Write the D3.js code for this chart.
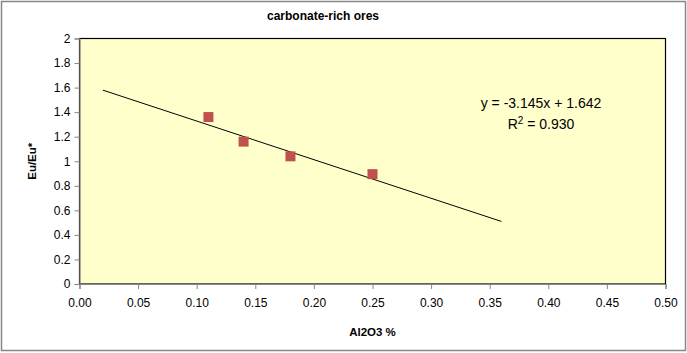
<!DOCTYPE html>
<html>
<head>
<meta charset="utf-8">
<script src="https://cdn.jsdelivr.net/npm/d3@7"></script>
<style>
  body { margin: 0; background: #fff; }
  svg text { font-family: "Liberation Sans", Arial, sans-serif; fill: #000; }
</style>
</head>
<body>
<script>
// data
var alumina = [0.11, 0.14, 0.18, 0.25];
var euAnomaly = [1.36, 1.16, 1.04, 0.895];
var trendX = [0.02, 0.36];
var slope = -3.145, intercept = 1.642;
var xTicks = [0, 0.05, 0.1, 0.15, 0.2, 0.25, 0.3, 0.35, 0.4, 0.45, 0.5];
var yTicks = [0, 0.2, 0.4, 0.6, 0.8, 1, 1.2, 1.4, 1.6, 1.8, 2];

var W = 687, H = 353;
var plot = { left: 79.5, top: 38.5, right: 665.5, bottom: 284 };

var svg = d3.select('body').append('svg').attr('width', W).attr('height', H);

// outer chart border
svg.append('rect')
  .attr('x', 1.5).attr('y', 1.5)
  .attr('width', W - 3).attr('height', H - 4)
  .attr('fill', '#fff').attr('stroke', '#868686').attr('stroke-width', 1.5);

var x = d3.scaleLinear().domain([0, 0.5]).range([plot.left, plot.right]);
var y = d3.scaleLinear().domain([0, 2]).range([plot.bottom, plot.top]);

// plot area
svg.append('rect')
  .attr('x', plot.left).attr('y', plot.top)
  .attr('width', plot.right - plot.left).attr('height', plot.bottom - plot.top)
  .attr('fill', '#ffffcc').attr('stroke', '#000').attr('stroke-width', 1.2);

var xAxis = svg.append('g')
  .attr('transform', 'translate(0,' + plot.bottom + ')')
  .call(d3.axisBottom(x).tickValues(xTicks).tickFormat(d3.format('.2f')).tickSize(5).tickPadding(9));

var yAxis = svg.append('g')
  .attr('transform', 'translate(' + plot.left + ',0)')
  .call(d3.axisLeft(y).tickValues(yTicks).tickFormat(function(d) { return d3.format('~g')(d); }).tickSize(5).tickPadding(4));

[xAxis, yAxis].forEach(function(a) {
  a.select('.domain').attr('stroke', '#868686').attr('stroke-width', 1.2);
  a.selectAll('.tick line').attr('stroke', '#868686');
  a.selectAll('.tick text').style('font-size', '12px').attr('fill', '#000');
});

// trendline
var line = d3.line()
  .x(function(d) { return x(d); })
  .y(function(d) { return y(slope * d + intercept); });
svg.append('path')
  .datum(trendX)
  .attr('d', line)
  .attr('fill', 'none')
  .attr('stroke', '#000')
  .attr('stroke-width', 1);

// markers
svg.selectAll('rect.pt')
  .data(alumina)
  .enter().append('rect')
  .attr('class', 'pt')
  .attr('x', function(d) { return x(d) - 5; })
  .attr('y', function(d, i) { return y(euAnomaly[i]) - 5; })
  .attr('width', 10).attr('height', 10)
  .attr('fill', '#c0504d');

// equation label
svg.append('text')
  .attr('x', 541).attr('y', 108)
  .attr('text-anchor', 'middle')
  .style('font-size', '14px')
  .text('y = -3.145x + 1.642');
var r2 = svg.append('text')
  .attr('x', 541).attr('y', 129)
  .attr('text-anchor', 'middle')
  .style('font-size', '14px');
r2.append('tspan').text('R');
r2.append('tspan').attr('dy', -5).style('font-size', '10px').text('2');
r2.append('tspan').attr('dy', 5).text(' = 0.930');

// titles
svg.append('text')
  .attr('x', 323).attr('y', 20)
  .attr('text-anchor', 'middle')
  .style('font-size', '12px').style('font-weight', 'bold')
  .text('carbonate-rich ores');

svg.append('text')
  .attr('x', (plot.left + plot.right) / 2).attr('y', 336)
  .attr('text-anchor', 'middle')
  .style('font-size', '11.5px').style('font-weight', 'bold')
  .text('Al2O3 %');

svg.append('text')
  .attr('transform', 'translate(36,' + (plot.top + plot.bottom) / 2 + ') rotate(-90)')
  .attr('text-anchor', 'middle')
  .style('font-size', '11.5px').style('font-weight', 'bold')
  .text('Eu/Eu*');
</script>
</body>
</html>
